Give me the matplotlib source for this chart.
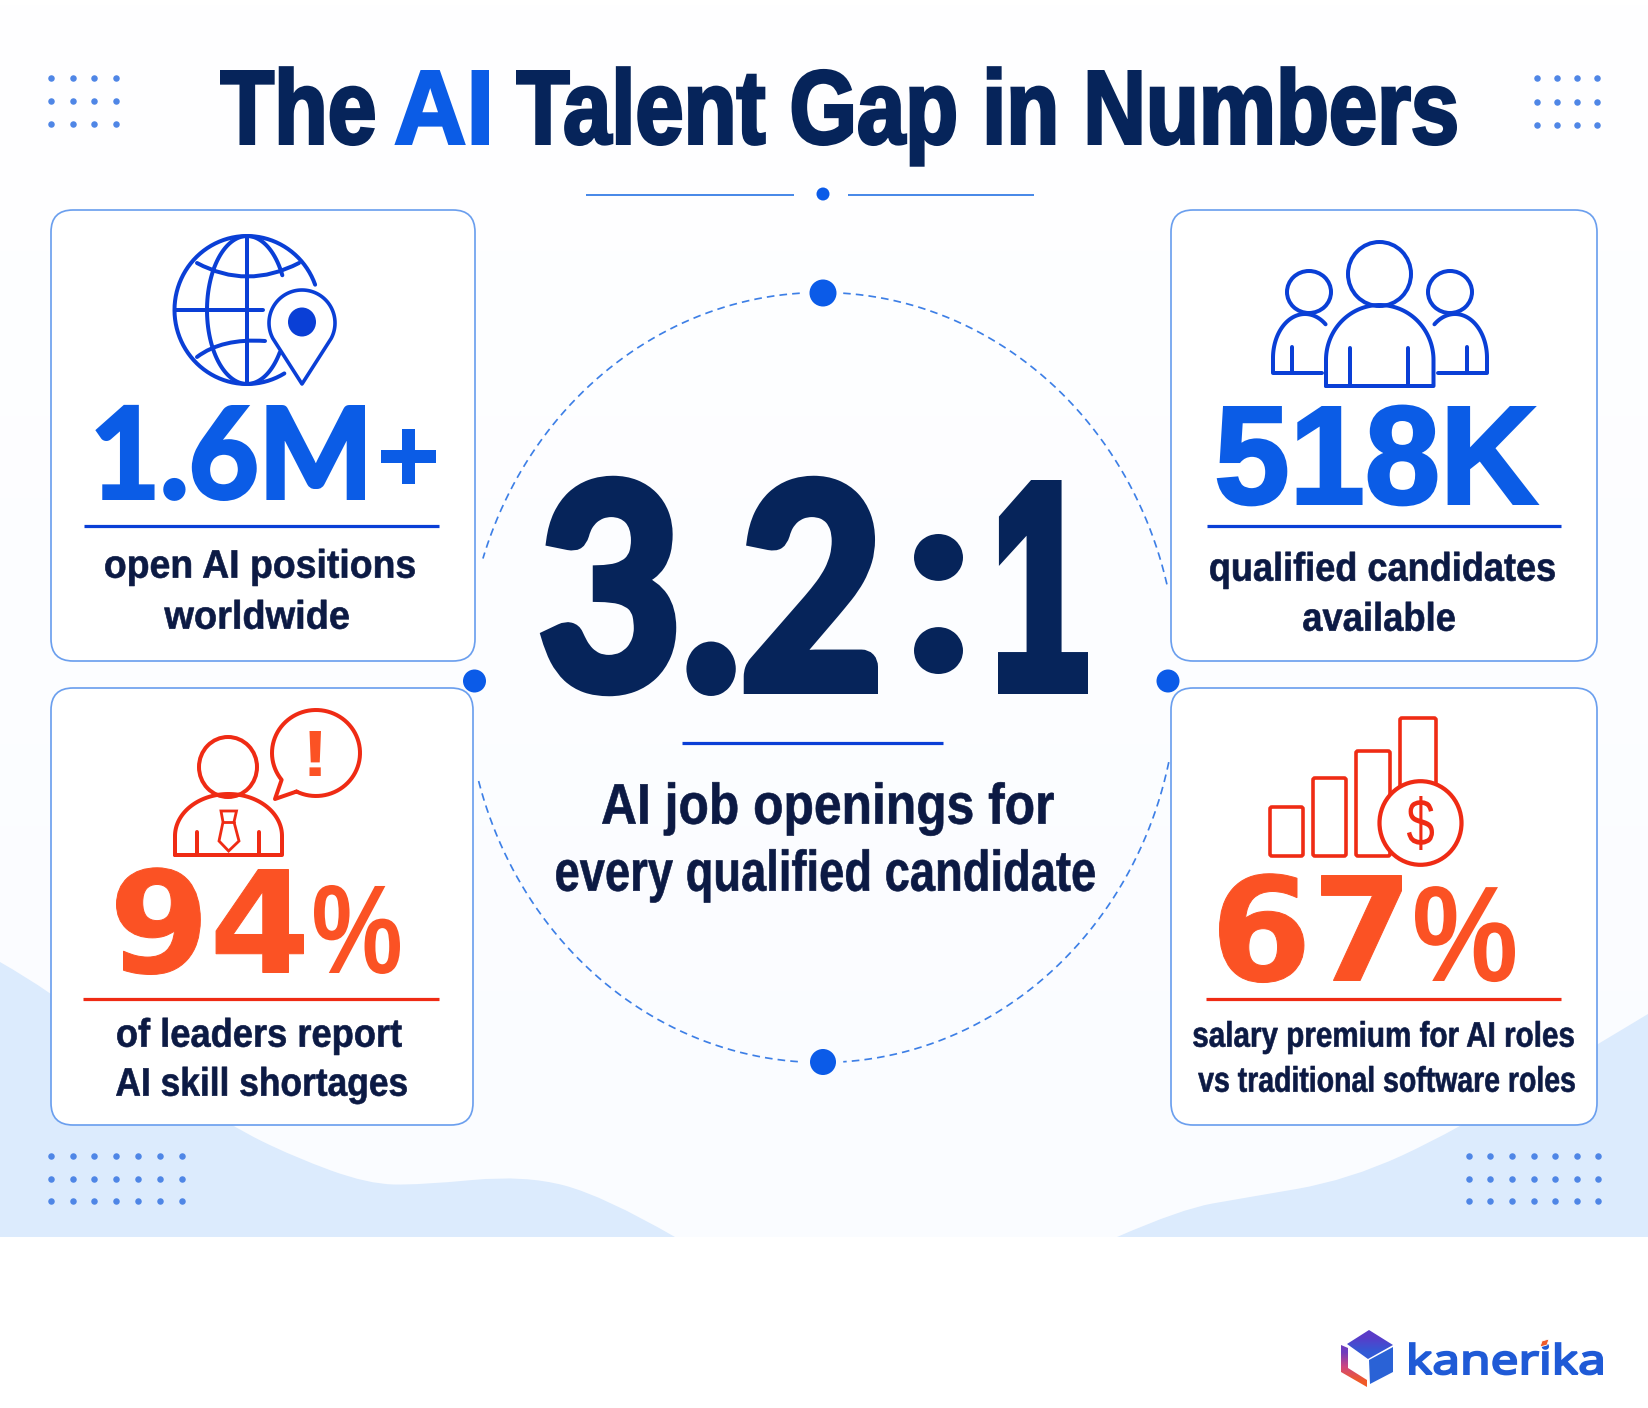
import matplotlib
matplotlib.use("Agg")
import matplotlib.pyplot as plt
import numpy as np
from matplotlib.font_manager import FontProperties
from matplotlib.patches import Ellipse, FancyBboxPatch, PathPatch, Polygon
from matplotlib.path import Path
from matplotlib.patheffects import AbstractPathEffect
from matplotlib.textpath import TextPath
from matplotlib.transforms import Affine2D

ARIAL = ["Liberation Sans", "DejaVu Sans"]
DEJAVU = ["DejaVu Sans"]
NOTO = ["Noto Sans", "DejaVu Sans"]
LATO = ["Lato", "DejaVu Sans"]

NAVY = "#06245a"
INK = "#0c1a44"
BLUE = "#0b5ce6"
ICON_BLUE = "#0a3fd6"
ORANGE = "#fb5224"
RED = "#ef2b14"
EDGE = "#6b9fee"
PALE = "#dcebfd"
DOT = "#4f86e6"
NODE = "#0b5be8"

# title pieces: text, x0, x1, colour
TITLE = [("The", 220, 375, NAVY), ("AI", 395, 489, BLUE), ("Talent Gap in Numbers", 516, 1457, NAVY)]
TITLE_BASE = 145

# stat pieces: text, x0, x1, baseline, cap height, colour, family, stroke
STATS = [
    ("1.6M", 96, 365, 500, 95, BLUE, LATO, 4),
    ("518K", 1217, 1538, 505, 99, BLUE, ARIAL, 3),
    ("94", 116, 304, 973, 104, ORANGE, DEJAVU, 1),
    ("%", 314, 400, 973, 89, ORANGE, ARIAL, 0),
    ("67", 1219, 1402, 981, 106, ORANGE, DEJAVU, 1),
    ("%", 1415, 1515, 981, 96, ORANGE, ARIAL, 0),
]

# caption lines: text, x0, x1, baseline, cap height
LABELS = [
    ("open AI positions", 105, 415, 578, 28),
    ("worldwide", 164, 349, 629, 28),
    ("qualified candidates", 1210, 1555, 581, 28),
    ("available", 1303, 1455, 631, 28),
    ("of leaders report", 117, 402, 1047, 28),
    ("AI skill shortages", 116, 407, 1096, 28),
    ("salary premium for AI roles", 1193, 1574, 1047, 25),
    ("vs traditional software roles", 1198, 1575, 1092, 25),
    ("AI job openings for", 602, 1054, 824, 40),
    ("every qualified candidate", 556, 1095, 891, 40),
]

# cards: x0, x1, y0, y1
CARDS = [(51, 475, 210, 661), (1171, 1597, 210, 661), (51, 473, 688, 1125), (1171, 1597, 688, 1125)]
# rules under the stats: x0, x1, y, colour
RULES = [
    (84, 439, 526, ICON_BLUE), (1207, 1561, 526, ICON_BLUE),
    (83, 439, 999, RED), (1206, 1561, 999, RED),
    (682, 943, 743, ICON_BLUE),
]
# dot grids: xs, ys
GRIDS = [
    ([51.5, 73, 94.5, 116], [78, 100.5, 123.5]),
    ([1537, 1557, 1577, 1597], [78, 101.5, 125]),
    ([51.5, 73, 94.5, 116, 138, 160, 182], [1156, 1178.5, 1201]),
    ([1469, 1490, 1512, 1534, 1555, 1577, 1598], [1156, 1178.5, 1201]),
]
BLOB_LEFT = [(0, 962), (51, 991), (150, 1070), (229, 1125), (294, 1157), (368, 1184), (420, 1185),
             (525, 1175), (604, 1196), (675, 1237)]
BLOB_RIGHT = [(1117, 1237), (1181, 1209), (1244, 1198), (1349, 1180), (1455, 1131), (1596, 1045), (1648, 1014)]
NODES = [(823, 293, 13.5), (823, 1062, 13), (474.5, 681, 11.5), (1168, 681, 11.5)]
# dashed ring arcs in degrees
RING = (821.5, 677.5, 356, 385)
RING_ARCS = [(93.5, 162), (14, 86.5), (-12.7, -86.5), (195.6, 266.5)]
BARS = [(1270, 1303, 807), (1313, 1346, 778), (1356, 1390, 751), (1400, 1436, 718)]

fig = plt.figure(figsize=(16.48, 14.08), dpi=100)
ax = fig.add_axes([0, 0, 1, 1])
ax.set_xlim(0, 1648)
ax.set_ylim(1408, 0)
ax.axis("off")


def px(w):
    return w * 0.72


class Tall(AbstractPathEffect):
    # the reference type is condensed: stretch glyphs upward from the baseline, and fatten them
    def __init__(self, k, w):
        super().__init__()
        self.k, self.w = k, w

    def draw_path(self, renderer, gc, tpath, affine, rgbFace=None):
        gc0 = renderer.new_gc()
        gc0.copy_properties(gc)
        gc0.set_linewidth(self.w)
        gc0.set_foreground(rgbFace)
        gc0.set_joinstyle("miter")
        renderer.draw_path(gc0, tpath, Affine2D().scale(1, self.k) + affine, rgbFace)
        gc0.restore()


def fit_text(s, x0, x1, base, cap, color, family, stroke=0.0, weight="bold", ref="H", ink_bottom=False, z=6):
    prop = FontProperties(family=family, weight=weight)
    box = TextPath((0, 0), s, size=100, prop=prop).get_extents()
    ref_box = TextPath((0, 0), ref, size=100, prop=prop).get_extents()
    scale = (x1 - x0 - stroke) / box.width
    k = (cap - stroke) / (ref_box.height * scale)
    y = base - stroke / 2
    if ink_bottom:
        y += box.y0 * scale * k
    t = ax.text(x0 + stroke / 2 - box.x0 * scale, y, s, color=color, family=family, fontweight=weight,
                fontsize=100 * scale * 0.72, ha="left", va="baseline", zorder=z)
    t.set_path_effects([Tall(k, px(stroke))])
    return t


def smooth(pts):
    # quadratic pieces through the midpoints
    verts, codes = [pts[0]], [Path.MOVETO]
    for i in range(1, len(pts) - 1):
        mid = ((pts[i][0] + pts[i + 1][0]) / 2, (pts[i][1] + pts[i + 1][1]) / 2)
        if i == len(pts) - 2:
            mid = pts[-1]
        verts += [pts[i], mid]
        codes += [Path.CURVE3, Path.CURVE3]
    return verts, codes


def arc(cx, cy, rx, ry, a0, a1, n=80):
    t = np.radians(np.linspace(a0, a1, n))
    return cx + rx * np.cos(t), cy - ry * np.sin(t)


def stroke_line(x, y, color, w=4.0, z=5):
    ax.plot(x, y, color=color, lw=px(w), solid_capstyle="round", solid_joinstyle="round", zorder=z)


def curve(p0, c, p1, color, w=4.0):
    ax.add_patch(PathPatch(Path([p0, c, p1], [Path.MOVETO, Path.CURVE3, Path.CURVE3]), fc="none", ec=color,
                           lw=px(w), capstyle="round", zorder=5))


def oval(cx, cy, rx, ry, color, w=4.0, fc="white", z=5):
    ax.add_patch(Ellipse((cx, cy), 2 * rx, 2 * ry, fc=fc, ec=color, lw=px(w), zorder=z))


def dome(x0, x1, top, mid, bottom, color, w=4.0):
    # round-shouldered body outline
    cx, rx = (x0 + x1) / 2, (x1 - x0) / 2
    xs, ys = arc(cx, mid, rx, mid - top, 180, 0)
    stroke_line(np.r_[x0, xs, x1, x0], np.r_[bottom, ys, bottom, bottom], color, w)


# background
grad = np.linspace(0, 1, 256)[:, None, None] * np.array([[[-5, -3, 0]]]) + 255
ax.imshow(grad.astype(np.uint8), extent=(0, 1648, 1237, 0), aspect="auto", zorder=0)
ax.set_xlim(0, 1648)
ax.set_ylim(1408, 0)
v, c = smooth(BLOB_LEFT)
ax.add_patch(PathPatch(Path(v + [(0, 1237), (0, 962)], c + [Path.LINETO, Path.LINETO]), fc=PALE, ec="none", zorder=1))
v, c = smooth(BLOB_RIGHT)
ax.add_patch(PathPatch(Path(v + [(1648, 1237), (1117, 1237)], c + [Path.LINETO, Path.LINETO]), fc=PALE, ec="none", zorder=1))

for xs, ys in GRIDS:
    gx, gy = np.meshgrid(xs, ys)
    ax.scatter(gx.ravel(), gy.ravel(), s=px(6.5) ** 2, color=DOT, lw=0, zorder=2)

# cards
for x0, x1, y0, y1 in CARDS:
    ax.add_patch(FancyBboxPatch((x0 + 22, y0 + 22), x1 - x0 - 44, y1 - y0 - 44, boxstyle="round,pad=22,rounding_size=22",
                                fc="white", ec=EDGE, lw=px(1.7), zorder=3))
for x0, x1, y, col in RULES:
    ax.plot([x0, x1], [y, y], color=col, lw=px(3.2), solid_capstyle="butt", zorder=5)

# title
for s, x0, x1, col in TITLE:
    fit_text(s, x0, x1, TITLE_BASE, 75, col, ARIAL, 3)
ax.plot([587, 793.5], [195, 195], color="#4a8ae8", lw=px(2), zorder=4)
ax.plot([849, 1033], [195, 195], color="#4a8ae8", lw=px(2), zorder=4)
oval(823, 194, 6.5, 6.5, NODE, 0, NODE)

# ring
cx, cy, rx, ry = RING
for a0, a1 in RING_ARCS:
    xs, ys = arc(cx, cy, rx, ry, a0, a1, 200)
    ax.plot(xs, ys, color="#3d7fe6", lw=px(1.7), ls=(0, (4.5, 3)), zorder=4)
for x, y, r in NODES:
    oval(x, y, r, r, NODE, 0, NODE)

for s, x0, x1, base, cap, col, fam, w in STATS:
    fit_text(s, x0, x1, base, cap, col, fam, w, ref=s if s == "%" else "H")
fit_text("+", 381, 436, 484, 55, BLUE, ARIAL, 2, ref="+", ink_bottom=True)
for s, x0, x1, base, cap in LABELS:
    fit_text(s, x0, x1, base, cap, INK, ARIAL, 0.6)

# centre ratio
fit_text("3.2", 541, 878, 694, 216, NAVY, LATO, 12)
fit_text(":", 914, 963, 674, 140, NAVY, LATO, 8, ref=":", ink_bottom=True)
fit_text("1", 998, 1088, 694, 214, NAVY, ARIAL, 12)

# globe with pin
xs, ys = arc(247, 310, 72.5, 74, 20, 301)
stroke_line(xs, ys, ICON_BLUE)
stroke_line([247, 247], [236, 384], ICON_BLUE)
stroke_line([175, 263], [310, 310], ICON_BLUE)
xs, ys = arc(247, 310, 40, 74, 28, 270)
stroke_line(xs, ys, ICON_BLUE)
xs, ys = arc(247, 310, 40, 74, 270, 325)
stroke_line(xs, ys, ICON_BLUE)
curve((197, 263), (247, 290), (299, 263), ICON_BLUE)
curve((197, 357), (222, 338), (265, 341), ICON_BLUE)
hx, hy = arc(302, 323, 33, 33, -28, 208)
ax.add_patch(Polygon(np.c_[np.r_[hx, 302], np.r_[hy, 384]], closed=True, fc="white", ec=ICON_BLUE, lw=px(3.6),
                     joinstyle="round", zorder=5))
oval(302, 322, 14, 14.5, ICON_BLUE, 0, ICON_BLUE)

# group of people
oval(1379.5, 274, 31.5, 32, ICON_BLUE)
oval(1309, 292, 22, 21, ICON_BLUE)
oval(1450, 292, 22, 21, ICON_BLUE)
xs, ys = arc(1305, 358, 32, 44, 180, 50)
stroke_line(np.r_[1322, 1273, xs], np.r_[373, 373, ys], ICON_BLUE)
xs, ys = arc(1455, 358, 32, 44, 0, 130)
stroke_line(np.r_[1438, 1487, xs], np.r_[373, 373, ys], ICON_BLUE)
stroke_line([1292, 1292], [347, 373], ICON_BLUE)
stroke_line([1467, 1467], [347, 373], ICON_BLUE)
dome(1326, 1433.5, 305, 360, 386, ICON_BLUE)
stroke_line([1350.5, 1350.5], [348, 386], ICON_BLUE)
stroke_line([1408, 1408], [348, 386], ICON_BLUE)

# leader with speech bubble
oval(228, 767, 29, 30, RED)
dome(175, 282, 794, 836, 855, RED)
stroke_line([197, 197], [832, 855], RED)
stroke_line([259, 259], [832, 855], RED)
ax.add_patch(Polygon([(221, 811), (236.5, 811), (234, 822), (239, 841), (228.6, 851), (219, 841), (223, 822)],
                     closed=True, fc="white", ec=RED, lw=px(2.8), zorder=5))
stroke_line([223, 234], [822, 822], RED, 2.8)
xs, ys = arc(316, 753, 44, 43, 243.7, 578.6)
stroke_line(np.r_[xs, 275, xs[0]], np.r_[ys, 799, ys[0]], RED)
fit_text("!", 309.5, 321, 776, 45, ORANGE, ARIAL, ref="!", ink_bottom=True)

# salary bars with coin
for x0, x1, top in BARS:
    ax.add_patch(FancyBboxPatch((x0 + 2, top + 2), x1 - x0 - 4, 856 - top - 4, boxstyle="round,pad=2,rounding_size=2",
                                fc="white", ec=RED, lw=px(3.6), zorder=5))
oval(1420.5, 823, 41, 41.8, RED, 4.2, "white", 6)
fit_text("$", 1407, 1434, 850, 54, RED, ARIAL, weight="normal", ref="$", ink_bottom=True, z=7)

# logo
top_face = Polygon([(1369, 1330), (1393, 1345), (1368, 1359), (1347, 1344)], closed=True, fc="none", ec="none", zorder=5)
ax.add_patch(top_face)
fade = np.array([[[90, 60, 200]], [[50, 90, 214]]], dtype=np.uint8)
im = ax.imshow(fade, extent=(1340, 1395, 1359, 1330), aspect="auto", interpolation="bilinear", zorder=5)
im.set_clip_path(top_face)
ax.add_patch(Polygon([(1393, 1347), (1393, 1372), (1370, 1384), (1369, 1360)], closed=True, fc="#2a62d6", ec="none", zorder=5))
left_strip = Polygon([(1341, 1345), (1348, 1348), (1348, 1368), (1367, 1380), (1367, 1387), (1341, 1372)], closed=True,
                     fc="none", ec="none", zorder=5)
ax.add_patch(left_strip)
fade = np.array([[[110, 60, 190]], [[205, 70, 130]], [[240, 90, 40]]], dtype=np.uint8)
im = ax.imshow(fade, extent=(1340, 1368, 1388, 1345), aspect="auto", interpolation="bilinear", zorder=5)
im.set_clip_path(left_strip)
ax.set_xlim(0, 1648)
ax.set_ylim(1408, 0)
fit_text("kanerika", 1409, 1603, 1375, 31, "#1f5ad6", NOTO, 2.2)
ax.add_patch(Polygon([(1540, 1347), (1542, 1341), (1549, 1339), (1547, 1345)], closed=True, fc="#ef5a2a", ec="white", lw=0.6, zorder=7))

fig.savefig("out.png", dpi=100)
